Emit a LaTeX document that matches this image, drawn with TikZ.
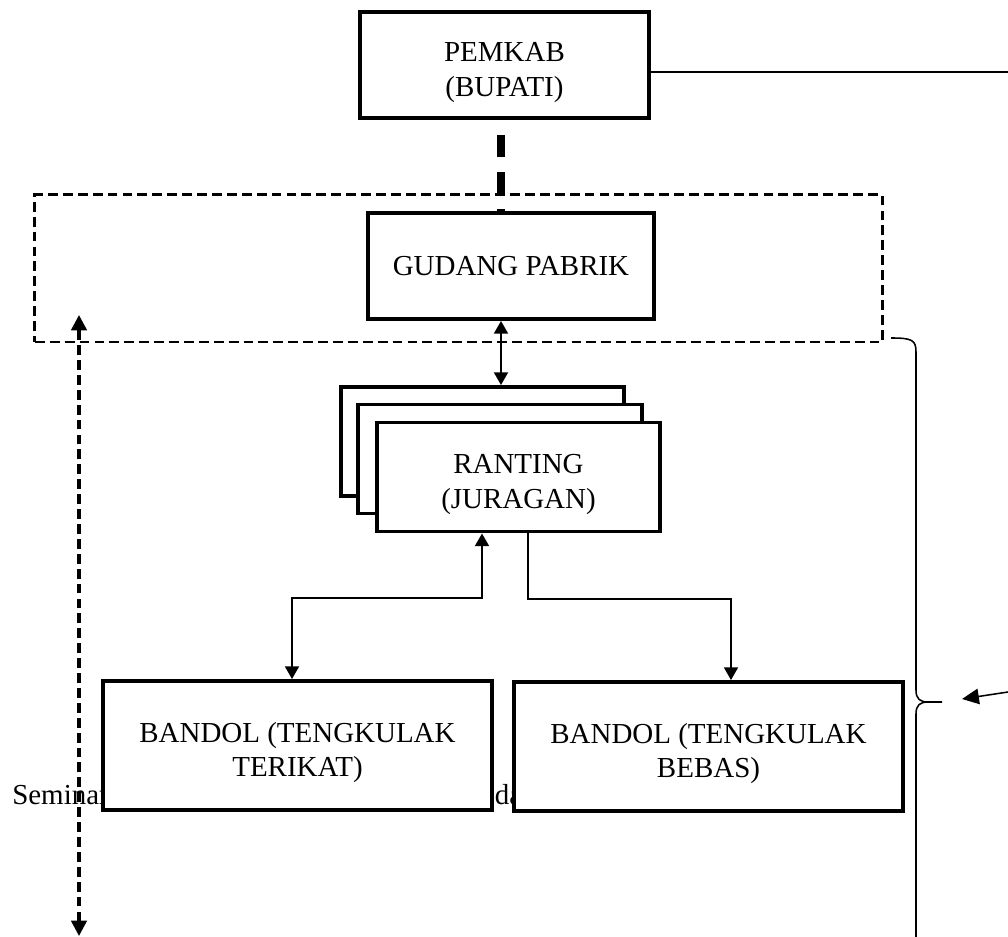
\documentclass[tikz,border=0pt]{standalone}
\usepackage{fontspec}
\setmainfont{Liberation Serif}
\usetikzlibrary{arrows.meta}
\usetikzlibrary{positioning}
\tikzset{>={Triangle[length=9pt, width=10pt]}}
\tikzstyle{box} = [rectangle, draw=black, line width=2.8pt, fill=white, inner sep=0pt, align=center, font=\fontsize{20.6}{24.5}\selectfont]
\tikzstyle{twoline} = [box, text height=49pt]
\tikzstyle{zone} = [rectangle, draw=black, line width=2.1pt, dash pattern=on 7pt off 3.6pt]
\tikzstyle{link} = [draw=black, line width=1.1pt]
\tikzstyle{pagetext} = [draw=none, inner sep=0pt, font=\fontsize{20.6}{24.5}\selectfont]

\begin{document}
\begin{tikzpicture}[x=0.025cm, y=-0.025cm]
\useasboundingbox (0, 0) rectangle (1008, 937);
\node [pagetext, anchor=base west] (sem) at (12, 804) {Seminar};
\node [pagetext, anchor=base west] (da) at (494.5, 804) {da};
\node [zone, minimum width=21.175cm, minimum height=3.675cm] (zone) at (458.5, 268.5) {};
\node [twoline, minimum width=7.225cm, minimum height=2.65cm] (PEMKAB) at (504.5, 65) {PEMKAB\\(BUPATI)};
\node [box, minimum width=7.15cm, minimum height=2.65cm] (GUDANG) at (511, 266) {GUDANG PABRIK};
\node [box, minimum width=7.075cm, minimum height=2.725cm] (R3) at (482.5, 441.5) {};
\node [box, minimum width=7.075cm, minimum height=2.725cm] (R2) at (500, 459) {};
\node [twoline, minimum width=7.075cm, minimum height=2.725cm] (RANTING) at (518.5, 477) {RANTING\\(JURAGAN)};
\node [twoline, minimum width=9.725cm, minimum height=3.225cm] (TERIKAT) at (297.5, 745.5) {BANDOL (TENGKULAK\\TERIKAT)};
\node [twoline, minimum width=9.725cm, minimum height=3.225cm] (BEBAS) at (708.5, 746.5) {BANDOL (TENGKULAK\\BEBAS)};
\coordinate (axis) at (501, 0);
\coordinate (pemR) at (1008, 72);
\coordinate (upL) at (482, 598);
\coordinate (kL) at (292, 598);
\coordinate (dnR) at (528, 599);
\coordinate (kR) at (731, 599);
\coordinate (vTop) at (79, 315);
\coordinate (vBot) at (79, 936);
\coordinate (inR) at (1008, 692);
\coordinate (inTip) at (962, 699);
\coordinate (brT) at (891, 338);
\coordinate (brM) at (942, 702);
\coordinate (brB) at (916, 940);
\draw [draw=black, line width=1.6pt] (PEMKAB.east |- pemR) -- (pemR);
\draw [draw=black, line width=5.5pt, dash pattern=on 15.6pt off 10.7pt, dash phase=15.6pt] (PEMKAB.south -| axis) -- (GUDANG.north -| axis);
\draw [link, <->] (GUDANG.south -| axis) -- (R3.north -| axis);
\draw [link, <->] (RANTING.south -| upL) -- (upL) -- (kL) -- (TERIKAT.north -| kL);
\draw [link, ->] (RANTING.south -| dnR) -- (dnR) -- (kR) -- (BEBAS.north -| kR);
\draw [draw=black, line width=2.4pt, dash pattern=on 7pt off 3.6pt, {Triangle[length=11pt, width=11pt]}-{Triangle[length=11pt, width=11pt]}] (vBot) -- (vTop);
\draw [link] (brT) .. controls (912, 338) and (916, 340) .. (916, 352) -- (916, 690) .. controls (916, 699) and (920, 702) .. (928, 702) -- (brM);
\draw [link] (928, 702) .. controls (920, 702) and (916, 705) .. (916, 714) -- (brB);
\draw [link, -{Triangle[length=12pt, width=11pt]}] (inR) -- (inTip);
\end{tikzpicture}
\end{document}
